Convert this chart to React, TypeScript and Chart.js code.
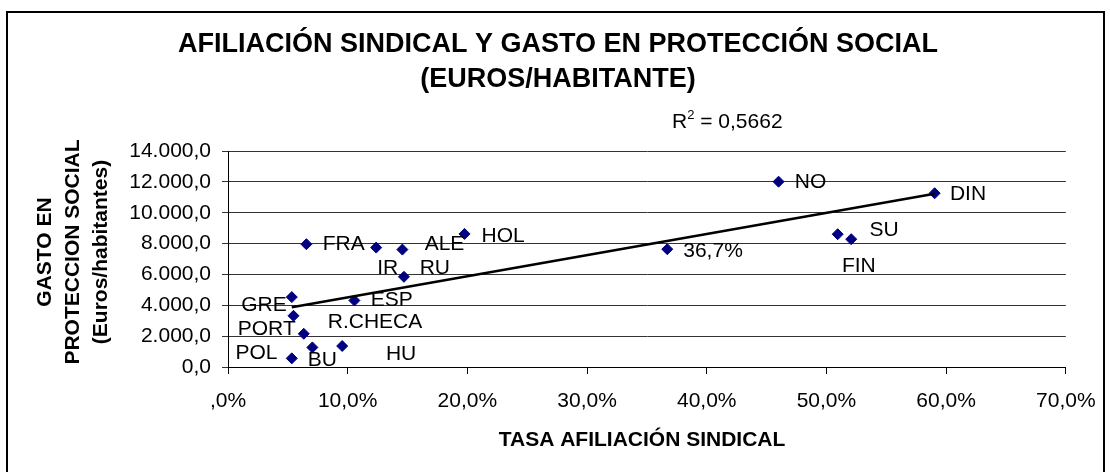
import React, { useEffect, useRef } from "react";
import { Chart, registerables } from "chart.js";

Chart.register(...registerables);

// ---- data ----
const COUNTRIES = ["GRE", "PORT", "R.CHECA", "BU", "POL", "HU", "ESP", "FRA", "IR", "ALE", "RU", "HOL", "36,7%", "NO", "DIN", "SU", "FIN"];
const AFILIACION = [5.33, 5.47, 6.33, 7.05, 5.33, 9.54, 10.56, 6.55, 12.38, 14.57, 14.7, 19.76, 36.7, 46.0, 59.04, 50.94, 52.07];
const GASTO = [4530, 3320, 2155, 1270, 560, 1360, 4310, 7960, 7740, 7610, 5845, 8627, 7637, 12013, 11262, 8608, 8285];
const X_TICKS = [0, 10, 20, 30, 40, 50, 60, 70];
const Y_TICKS = [0, 2000, 4000, 6000, 8000, 10000, 12000, 14000];
const R2_TEXT = "0,5662";
const TITLE_LINES = ["AFILIACIÓN SINDICAL Y GASTO EN PROTECCIÓN SOCIAL", "(EUROS/HABITANTE)"];
const Y_TITLE_LINES = ["GASTO EN", "PROTECCION SOCIAL", "(Euros/habitantes)"];
const X_TITLE = "TASA AFILIACIÓN SINDICAL";

// label placement (pixel offsets of label left/middle from its point)
const LABEL_OFFSETS: [number, number][] = [
  [-50.6, 7.7], [-55.7, 13], [24, -11.3], [-4.7, 12.3], [-56.3, -5.4], [43.7, 7.7],
  [16.4, 0], [16.3, 0], [1, 20.6], [22.3, -5.4], [15.7, -8.7], [17, 2.7],
  [16, 1.7], [16.3, 1], [15.3, 1], [31.7, -4.3], [-9.3, 27.4],
];

const FONT = "'Liberation Sans', Arial, sans-serif";

function regression(xs: number[], ys: number[]) {
  const n = xs.length;
  const mx = xs.reduce((a, b) => a + b, 0) / n;
  const my = ys.reduce((a, b) => a + b, 0) / n;
  let sxy = 0, sxx = 0;
  for (let i = 0; i < n; i++) {
    sxy += (xs[i] - mx) * (ys[i] - my);
    sxx += (xs[i] - mx) ** 2;
  }
  const slope = sxy / sxx;
  return { slope, intercept: my - slope * mx };
}

function fmtY(v: number) {
  const s = v.toFixed(1);
  const [i, d] = s.split(".");
  return i.replace(/\B(?=(\d{3})+(?!\d))/g, ".") + "," + d;
}
function fmtX(v: number) {
  if (v === 0) return ",0%";
  return v.toFixed(1).replace(".", ",") + "%";
}

export default function App() {
  const ref = useRef<HTMLCanvasElement | null>(null);
  useEffect(() => {
    if (!ref.current) return;
    const { slope, intercept } = regression(AFILIACION, GASTO);
    const minX = Math.min(...AFILIACION);
    const maxX = Math.max(...AFILIACION);
    const trend = [
      { x: minX, y: intercept + slope * minX },
      { x: maxX, y: intercept + slope * maxX },
    ];
    const decor = {
      id: "decor",
      beforeDraw(chart: any) {
        const ctx = chart.ctx;
        ctx.save();
        ctx.fillStyle = "#fff";
        ctx.fillRect(0, 0, chart.width, chart.height);
        ctx.strokeStyle = "#000";
        ctx.lineWidth = 2;
        ctx.strokeRect(7, 12, 1097, 500);
        ctx.restore();
      },
      afterDatasetsDraw(chart: any) {
        const ctx = chart.ctx;
        const meta = chart.getDatasetMeta(1);
        ctx.save();
        ctx.fillStyle = "#000";
        ctx.font = `21px ${FONT}`;
        ctx.textAlign = "left";
        ctx.textBaseline = "middle";
        meta.data.forEach((pt: any, i: number) => {
          const [dx, dy] = LABEL_OFFSETS[i];
          ctx.fillText(COUNTRIES[i], pt.x + dx, pt.y + dy);
        });
        // titles
        ctx.textAlign = "center";
        ctx.font = `bold 27px ${FONT}`;
        ctx.fillText(TITLE_LINES[0], 558, 45);
        ctx.fillText(TITLE_LINES[1], 558, 80);
        ctx.font = `bold 21px ${FONT}`;
        ctx.fillText(X_TITLE, 642, 440);
        const yc = 252;
        const xs = [45.5, 73, 101];
        Y_TITLE_LINES.forEach((t, i) => {
          ctx.save();
          ctx.translate(xs[i], yc);
          ctx.rotate(-Math.PI / 2);
          ctx.fillText(t, 0, 0);
          ctx.restore();
        });
        // R^2
        ctx.textAlign = "left";
        ctx.font = `21px ${FONT}`;
        let x = 672;
        const y = 122;
        ctx.fillText("R", x, y);
        x += ctx.measureText("R").width;
        ctx.font = `13px ${FONT}`;
        ctx.fillText("2", x, y - 7);
        x += ctx.measureText("2").width;
        ctx.font = `21px ${FONT}`;
        ctx.fillText(" = " + R2_TEXT, x, y);
        ctx.restore();
      },
    };
    const chart = new Chart(ref.current, {
      type: "scatter",
      data: {
        datasets: [
          {
            type: "line",
            data: trend,
            borderColor: "#000",
            borderWidth: 2.5,
            pointRadius: 0,
            showLine: true,
            fill: false,
          } as any,
          {
            data: AFILIACION.map((x, i) => ({ x, y: GASTO[i] })),
            pointStyle: "rectRot",
            pointRadius: 5.5,
            backgroundColor: "#000080",
            borderColor: "#000080",
            borderWidth: 1,
          },
        ],
      },
      options: {
        animation: false,
        responsive: false,
        maintainAspectRatio: false,
        layout: { padding: { top: 151, right: 38, left: 0, bottom: 0 } },
        plugins: { legend: { display: false }, tooltip: { enabled: false }, title: { display: false } },
        scales: {
          x: {
            type: "linear",
            min: 0,
            max: 70,
            afterBuildTicks: (s: any) => { s.ticks = X_TICKS.map((v) => ({ value: v })); },
            afterFit: (s: any) => { s.height = 105; },
            ticks: { callback: (v: any) => fmtX(Number(v)), color: "#000", font: { family: FONT, size: 21 }, padding: 14.4, maxRotation: 0, autoSkip: false },
            grid: { drawOnChartArea: false, drawTicks: true, tickLength: 7, color: "#000" },
            border: { display: true, color: "#000", width: 1 },
          },
          y: {
            type: "linear",
            min: 0,
            max: 14000,
            afterBuildTicks: (s: any) => { s.ticks = Y_TICKS.map((v) => ({ value: v })); },
            afterFit: (s: any) => { s.width = 228; },
            ticks: { callback: (v: any) => fmtY(Number(v)), color: "#000", font: { family: FONT, size: 21 }, padding: 11, autoSkip: false },
            grid: { color: "#333", lineWidth: 1, drawTicks: true, tickLength: 6 },
            border: { display: true, color: "#000", width: 1 },
          },
        },
      },
      plugins: [decor],
    });
    return () => chart.destroy();
  }, []);
  return (
    <div style={{ position: "absolute", left: 0, top: 0, width: 1110, height: 472, background: "#fff" }}>
      <canvas ref={ref} width={1110} height={472} style={{ width: 1110, height: 472, display: "block" }} />
    </div>
  );
}
